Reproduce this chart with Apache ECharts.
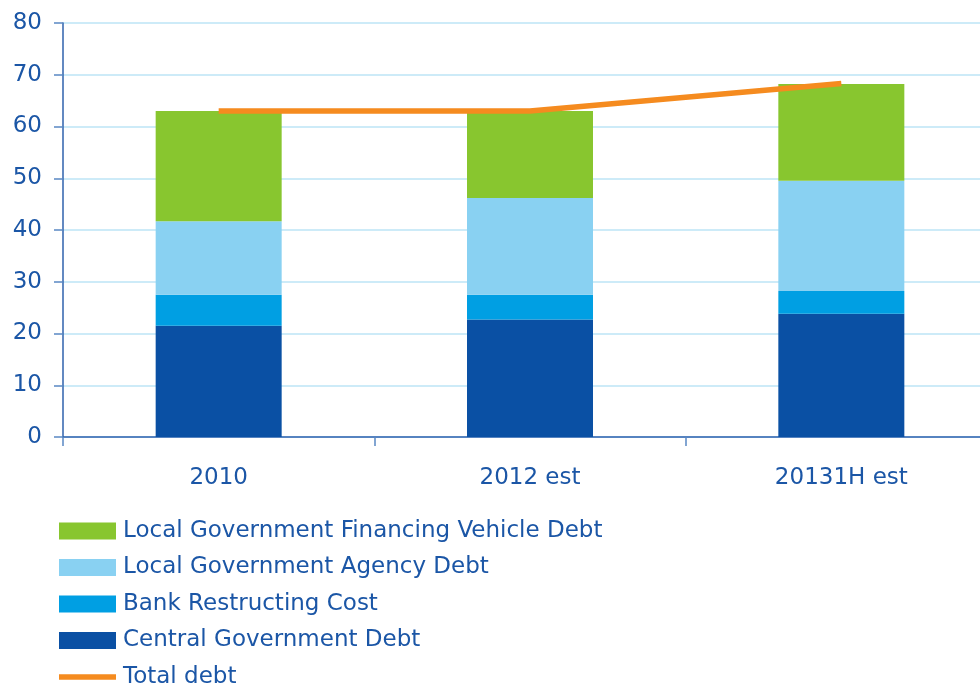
<!DOCTYPE html>
<html>
<head>
<meta charset="utf-8">
<script src="https://cdn.jsdelivr.net/npm/echarts@6/dist/echarts.min.js"></script>
<style>
html,body{margin:0;padding:0;background:#fff;overflow:hidden;width:980px;height:686px;}
#c{width:997px;height:710px;}
</style>
</head>
<body>
<div id="c"></div>
<script>
const categories = ['2010', '2012 est', '20131H est'];
const centralGovDebt = [21.5, 22.7, 23.8];
const bankRestructCost = [6.0, 4.8, 4.4];
const localAgencyDebt = [14.2, 18.7, 21.3];
const lgfvDebt = [21.3, 16.8, 18.7];
const totalDebt = [63.0, 63.0, 68.3];
const yTicks = [0, 80, 10];

const txt = '#1b56a6';
const font = '"DejaVu Sans", "Liberation Sans", Arial, sans-serif';

const chart = echarts.init(document.getElementById('c'));
const barCommon = { type: 'bar', stack: 'debt', barWidth: 126 };
chart.setOption({
  animation: false,
  grid: { left: 63, right: 0, top: 23, bottom: 273, containLabel: false },
  xAxis: {
    type: 'category',
    data: categories,
    boundaryGap: true,
    axisLine: { lineStyle: { color: '#2f62ad', width: 1.5 } },
    axisTick: { show: true, length: 9, lineStyle: { color: '#5a88c4', width: 1.5 } },
    axisLabel: { color: txt, fontSize: 23, fontFamily: font, margin: 30 }
  },
  yAxis: {
    type: 'value',
    min: yTicks[0], max: yTicks[1], interval: yTicks[2],
    axisLine: { show: true, lineStyle: { color: '#2f62ad', width: 1.5 } },
    axisTick: { show: true, length: 9, lineStyle: { color: '#5a88c4', width: 1.5 } },
    splitLine: { lineStyle: { color: '#cdebf8', width: 2 } },
    axisLabel: { color: txt, fontSize: 23, fontFamily: font, margin: 21 }
  },
  legend: {
    orient: 'vertical',
    left: 59, top: 519.5, padding: 0,
    itemWidth: 57, itemHeight: 17, itemGap: 13.5,
    textStyle: { color: txt, fontSize: 23, fontFamily: font, padding: [0,0,0,2] },
    data: [
      { name: 'Local Government Financing Vehicle Debt', icon: 'rect' },
      { name: 'Local Government Agency Debt', icon: 'rect' },
      { name: 'Bank Restructing Cost', icon: 'rect' },
      { name: 'Central Government Debt', icon: 'rect' },
      { name: 'Total debt', icon: 'path://M0,0 H63 V6 H0 Z' }
    ]
  },
  series: [
    Object.assign({ name: 'Central Government Debt', data: centralGovDebt, itemStyle: { color: '#0a50a4' } }, barCommon),
    Object.assign({ name: 'Bank Restructing Cost', data: bankRestructCost, itemStyle: { color: '#009fe3' } }, barCommon),
    Object.assign({ name: 'Local Government Agency Debt', data: localAgencyDebt, itemStyle: { color: '#89d1f2' } }, barCommon),
    Object.assign({ name: 'Local Government Financing Vehicle Debt', data: lgfvDebt, itemStyle: { color: '#88c62f' } }, barCommon),
    {
      name: 'Total debt', type: 'line', data: totalDebt,
      showSymbol: false, symbol: 'none',
      lineStyle: { color: '#f58b1f', width: 5.5 },
      itemStyle: { color: '#f58b1f' },
      z: 5
    }
  ]
});
</script>
</body>
</html>
